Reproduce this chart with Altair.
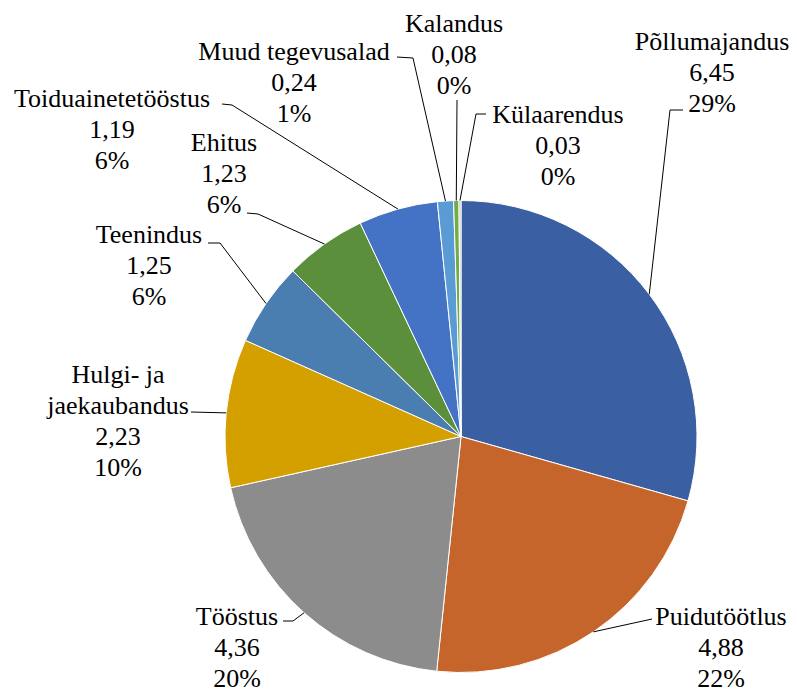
import math
import altair as alt
import pandas as pd

# ---- data ----
names = ["Põllumajandus", "Puidutöötlus", "Tööstus", "Hulgi- ja\njaekaubandus",
         "Teenindus", "Ehitus", "Toiduainetetööstus", "Muud tegevusalad",
         "Kalandus", "Külaarendus"]
values = [6.45, 4.88, 4.36, 2.23, 1.25, 1.23, 1.19, 0.24, 0.08, 0.03]
percents = [29, 22, 20, 10, 6, 6, 6, 1, 0, 0]
colors = ["#3A5FA3", "#C6652B", "#8C8C8C", "#D4A000", "#4A7EB0",
          "#5B8F3B", "#4472C4", "#5B9BD5", "#70AD47", "#BFBFBF"]

# ---- layout (plot-area pixels); label y = centre of first line ----
CX, CY, R = 453, 428.5, 236
label_pos = [(704, 34), (713, 609), (229, 609), (110, 367), (141, 227),
             (216, 135), (104, 91), (286, 44), (446, 16), (550, 107)]
leader_pts = [
    [(662, 102), (675, 102)],
    [(644, 611)],
    [(285, 613), (275, 613)],
    [(183, 404)],
    [(212, 235), (200, 235)],
    [(250, 206), (239, 205)],
    [(224, 97), (214, 96)],
    [(405, 50), (389, 49)],
    [(449, 92)],
    [(468, 106), (478, 106)],
]

total = sum(values)
rows, text_rows, line_rows = [], [], []
cum = 0.0
for i, (n, v, p) in enumerate(zip(names, values, percents)):
    rows.append({"name": n, "value": v, "idx": i})
    lbl = f"{n}\n{v:.2f}".replace(".", ",") + f"\n{p}%"
    text_rows.append({"name": n, "label": lbl, "lx": label_pos[i][0], "ly": label_pos[i][1]})
    mid = (cum + v / 2) / total * 2 * math.pi
    cum += v
    ex, ey = CX + R * math.sin(mid), CY - R * math.cos(mid)
    pts = [(ex, ey)] + leader_pts[i]
    for k, (px, py) in enumerate(pts):
        line_rows.append({"name": n, "k": k, "px": px, "py": py})

df = pd.DataFrame(rows)
tdf = pd.DataFrame(text_rows)
ldf = pd.DataFrame(line_rows)

pie = alt.Chart(df).mark_arc(outerRadius=R, stroke="white", strokeWidth=1).encode(
    theta=alt.Theta("value:Q", stack=True),
    color=alt.Color("name:N", scale=alt.Scale(domain=names, range=colors), legend=None),
    order=alt.Order("idx:Q"),
    x=alt.value(CX),
    y=alt.value(CY),
)

lines = alt.Chart(ldf).mark_line(color="black", strokeWidth=1).encode(
    x=alt.X("px:Q", scale=None, axis=None),
    y=alt.Y("py:Q", scale=None, axis=None),
    detail="name:N",
    order="k:Q",
)

texts = alt.Chart(tdf).mark_text(
    font="Times New Roman, Liberation Serif, Tinos, Noto Serif, DejaVu Serif, FreeSerif, Nimbus Roman, Times, serif",
    fontSize=26, lineHeight=31, align="center", baseline="middle",
    lineBreak="\n", color="black"
).encode(
    x=alt.X("lx:Q", scale=None, axis=None),
    y=alt.Y("ly:Q", scale=None, axis=None),
    text="label:N",
)

chart = alt.layer(pie, lines, texts).properties(
    width=781, height=684, autosize=alt.AutoSizeParams(type="none"), padding=0
).configure_view(stroke=None)

chart.save("out.html", embed_options={"renderer": "svg", "actions": False})
